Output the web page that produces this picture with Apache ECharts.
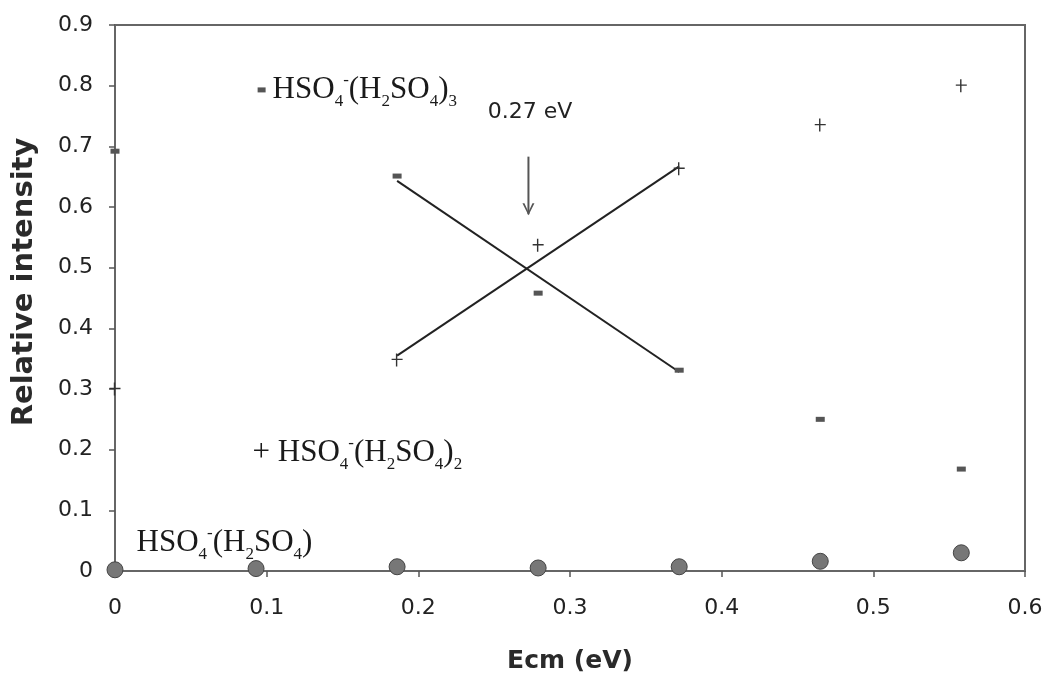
<!DOCTYPE html>
<html>
<head>
<meta charset="utf-8">
<script src="https://cdn.jsdelivr.net/npm/echarts@6/dist/echarts.min.js"></script>
<style>html,body{margin:0;padding:0;background:#fff}#c{width:1049px;height:678px}</style>
</head>
<body>
<div id="c"></div>
<script>
// ---- data ----
const ecm = [0, 0.093, 0.186, 0.279, 0.372, 0.465, 0.558];
const trimer = [0.692, null, 0.651, 0.458, 0.331, 0.25, 0.168];   // HSO4-(H2SO4)3
const dimer = [0.30, null, 0.348, 0.537, 0.663, 0.735, 0.80];     // HSO4-(H2SO4)2
const monomer = [0.002, 0.004, 0.007, 0.005, 0.007, 0.016, 0.03]; // HSO4-(H2SO4)
const fitX = [0.186, 0.372];
const trimerFit = [0.643, 0.328];
const dimerFit = [0.355, 0.667];
const arrowX = [0.2726, 0.2726];
const arrowY = [0.683, 0.588];
const arrowText = "0.27 eV";
const arrowTextPos = [0.2736, 0.756];
const xTicks = [0, 0.1, 0.2, 0.3, 0.4, 0.5, 0.6];
const yTicks = [0, 0.1, 0.2, 0.3, 0.4, 0.5, 0.6, 0.7, 0.8, 0.9];
const labelPos = { trimer: [0.0937, 0.793], dimer: [0.0904, 0.195], monomer: [0.0139, 0.046] };

const pair = (xs, ys) => xs.map((x, i) => ys[i] == null ? null : [x, ys[i]]).filter(Boolean);

const SERIF = '"Liberation Serif", "Times New Roman", serif';
const SANS = '"DejaVu Sans", sans-serif';
const TXT = '#1a1a1a';
const rich = {
  m: { fontFamily: SERIF, fontSize: 31, lineHeight: 36, color: TXT, verticalAlign: 'middle' },
  sub: { fontFamily: SERIF, fontSize: 17, lineHeight: 17, color: TXT, verticalAlign: 'bottom', padding: [0, 0, -2, 0] },
  sup: { fontFamily: SERIF, fontSize: 17, lineHeight: 17, color: TXT, verticalAlign: 'top' },
  d: { width: 8, height: 5, backgroundColor: '#555', verticalAlign: 'middle' },
  sp: { width: 7, fontSize: 10 }
};
const formula = (n) => '{m|HSO}{sub|4}{sup|-}{m|(H}{sub|2}{m|SO}{sub|4}{m|)}' + (n ? '{sub|' + n + '}' : '');

const plusPath = 'path://M4.3,0 L5.7,0 L5.7,5.3 L11,5.3 L11,6.7 L5.7,6.7 L5.7,13 L4.3,13 L4.3,6.7 L0,6.7 L0,5.3 L4.3,5.3 Z';
const chevron = 'path://M0,0 L2,0 L6,8 L10,0 L12,0 L6,11 Z';

const annot = (pos, fmt) => ({
  type: 'scatter', data: [pos], symbolSize: 1, silent: true, z: 5,
  itemStyle: { color: 'rgba(0,0,0,0)', opacity: 1 },
  label: { show: true, position: 'right', distance: 0, formatter: fmt, color: TXT, rich: rich }
});

const arrowData = arrowX.map((x, i) => i === 0
  ? { value: [x, arrowY[i]], symbol: 'none' }
  : { value: [x, arrowY[i]], symbol: chevron, symbolSize: [12, 12], symbolOffset: [0, -5] });

const chart = echarts.init(document.getElementById('c'));
chart.setOption({
  animation: false,
  backgroundColor: '#fff',
  grid: { left: 115, right: 24, top: 25, bottom: 107, show: true, borderColor: '#666', borderWidth: 2,
    outerBoundsMode: 'none', containLabel: false },
  xAxis: {
    type: 'value', min: 0, max: 0.6, interval: 0.1,
    name: 'Ecm (eV)', nameLocation: 'middle', nameGap: 78,
    nameTextStyle: { fontFamily: SANS, fontWeight: 'bold', fontSize: 25, color: '#2a2a2a' },
    axisLine: { show: true, lineStyle: { color: '#666', width: 2 } },
    axisTick: { show: true, inside: false, length: 6, lineStyle: { color: '#555', width: 1.5 } },
    axisLabel: { fontFamily: SANS, fontSize: 22, color: '#222', margin: 26,
      formatter: v => xTicks.includes(+v.toFixed(1)) ? (v === 0 ? '0' : v.toFixed(1)) : '' },
    splitLine: { show: false }
  },
  yAxis: {
    type: 'value', min: 0, max: 0.9, interval: 0.1,
    name: 'Relative intensity', nameLocation: 'middle', nameGap: 76,
    nameTextStyle: { fontFamily: SANS, fontWeight: 'bold', fontSize: 29, color: '#2a2a2a', padding: [0, 0, 0, 32] },
    axisLine: { show: true, lineStyle: { color: '#666', width: 2 } },
    axisTick: { show: true, inside: false, length: 6, lineStyle: { color: '#555', width: 1.5 } },
    axisLabel: { fontFamily: SANS, fontSize: 22, color: '#222', margin: 22,
      formatter: v => yTicks.includes(+v.toFixed(1)) ? (v === 0 ? '0' : v.toFixed(1)) : '' },
    splitLine: { show: false }
  },
  series: [
    { name: 'trimer fit', type: 'line', data: pair(fitX, trimerFit), symbol: 'none', lineStyle: { color: '#222', width: 2 }, z: 3 },
    { name: 'dimer fit', type: 'line', data: pair(fitX, dimerFit), symbol: 'none', lineStyle: { color: '#222', width: 2 }, z: 3 },
    { name: 'HSO4-(H2SO4)3', type: 'scatter', data: pair(ecm, trimer), symbol: 'rect', symbolSize: [9, 5], itemStyle: { color: '#555', opacity: 1 }, clip: false, z: 4 },
    { name: 'HSO4-(H2SO4)2', type: 'scatter', data: pair(ecm, dimer), symbol: plusPath, symbolSize: [11, 13], itemStyle: { color: '#333', opacity: 1 }, clip: false, z: 4 },
    { name: 'HSO4-(H2SO4)', type: 'scatter', data: pair(ecm, monomer), symbol: 'circle', symbolSize: 16, itemStyle: { color: '#777', borderColor: '#444', borderWidth: 1, opacity: 1 }, clip: false, z: 4 },
    { name: 'arrow', type: 'line', data: arrowData, showSymbol: true, showAllSymbol: true,
      itemStyle: { color: '#555' }, lineStyle: { color: '#555', width: 2 }, z: 3 },
    {
      type: 'scatter', data: [arrowTextPos], symbolSize: 1, silent: true, itemStyle: { color: 'rgba(0,0,0,0)', opacity: 1 },
      label: { show: true, position: 'inside', formatter: arrowText, fontFamily: SANS, fontSize: 22, color: '#222' }
    },
    annot(labelPos.trimer, '{d|}{sp|}' + formula(3)),
    annot(labelPos.dimer, '{m|+ }' + formula(2)),
    annot(labelPos.monomer, formula(''))
  ]
});
</script>
</body>
</html>
